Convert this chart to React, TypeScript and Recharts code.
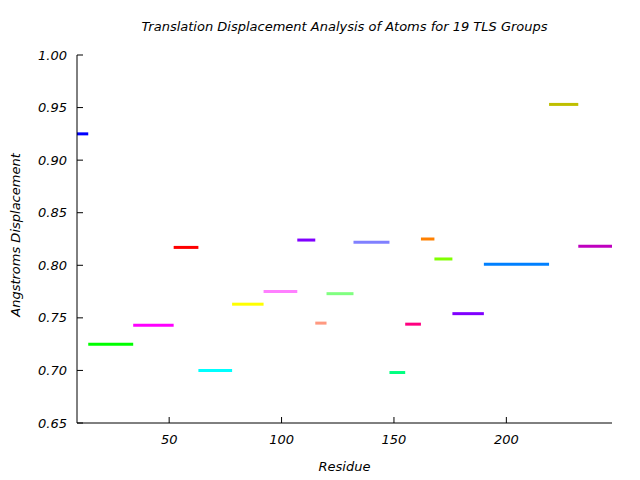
import { LineChart, Line, XAxis, YAxis } from "recharts";

// TLS groups: residue ranges and mean translation displacement
const groupStart = [9, 14, 34, 52, 63, 78, 92, 107, 115, 120, 132, 148, 155, 162, 168, 176, 190, 219, 232];
const groupEnd = [14, 34, 52, 63, 78, 92, 107, 115, 120, 132, 148, 155, 162, 168, 176, 190, 219, 232, 247];
const displacement = [
  0.925, 0.725, 0.743, 0.817, 0.7, 0.763, 0.775, 0.824, 0.745, 0.773, 0.822, 0.698, 0.744, 0.825, 0.806,
  0.754, 0.801, 0.953, 0.818,
];
const groupColors = [
  "#0000ff", "#00ff00", "#ff00ff", "#ff0000", "#00ffff", "#ffff00", "#ff80ff", "#8000ff", "#ff9980",
  "#80ff80", "#8080ff", "#00ff80", "#ff0080", "#ff8000", "#80ff00", "#8000ff", "#0080ff", "#bfbf00",
  "#bf00bf",
];

const xTicks = [50, 100, 150, 200];
const yTicks = [0.65, 0.7, 0.75, 0.8, 0.85, 0.9, 0.95, 1.0];
const xDomain = [9, 247];
const yDomain = [0.65, 1.0];

const FONT = "'DejaVu Sans', sans-serif";
const textStyle = { fontFamily: FONT, fontStyle: "italic", fontSize: 13, fill: "#000" };

const groups = groupStart.map((s, i) => ({
  key: `g${i + 1}`,
  color: groupColors[i],
  data: [
    { r: s, v: displacement[i] },
    { r: groupEnd[i], v: displacement[i] },
  ],
}));

function LeftTick({ x, y, payload }: any) {
  return (
    <g>
      <text x={x} y={y} dy={4.5} textAnchor="end" style={textStyle}>
        {Number(payload.value).toFixed(2)}
      </text>
      <line x1={x + 10} x2={x + 16} y1={y} y2={y} stroke="#000" />
    </g>
  );
}

function RightTick({ x, y }: any) {
  return <line x1={x - 6} x2={x} y1={y} y2={y} stroke="#000" />;
}

function BottomTick({ x, y, payload }: any) {
  return (
    <g>
      <line x1={x} x2={x} y1={y - 6} y2={y} stroke="#000" />
      <text x={x} y={y} dy={21} textAnchor="middle" style={textStyle}>
        {payload.value}
      </text>
    </g>
  );
}

function TopTick({ x, y }: any) {
  return <line x1={x} x2={x} y1={y} y2={y + 6} stroke="#000" />;
}

export default function App() {
  return (
    <div style={{ position: "absolute", left: 0, top: 0, width: 640, height: 480, background: "#fff" }}>
      <div
        style={{
          position: "absolute",
          left: 77,
          width: 535,
          top: 18,
          textAlign: "center",
          fontFamily: FONT,
          fontStyle: "italic",
          fontSize: 13,
          lineHeight: "18px",
          color: "#000",
        }}
      >
        Translation Displacement Analysis of Atoms for 19 TLS Groups
      </div>
      <LineChart width={640} height={480} margin={{ top: 55, right: 28, bottom: 0, left: 0 }}>
        <XAxis
          xAxisId="bottom"
          dataKey="r"
          type="number"
          domain={xDomain}
          allowDataOverflow
          ticks={xTicks}
          height={57}
          tickSize={0}
          tickMargin={0}
          tickLine={false}
          axisLine={{ stroke: "#000" }}
          tick={<BottomTick />}
          label={{ value: "Residue", position: "insideBottom", offset: 9, style: textStyle }}
        />
        <XAxis
          xAxisId="top"
          orientation="top"
          dataKey="r"
          type="number"
          domain={xDomain}
          allowDataOverflow
          ticks={xTicks}
          height={0}
          tickSize={0}
          tickMargin={0}
          tickLine={false}
          axisLine={{ stroke: "#000" }}
          tick={<TopTick />}
        />
        <YAxis
          yAxisId="left"
          type="number"
          domain={yDomain}
          allowDataOverflow
          ticks={yTicks}
          width={77}
          tickSize={0}
          tickMargin={10}
          tickLine={false}
          axisLine={{ stroke: "#000" }}
          tick={<LeftTick />}
          label={{
            value: "Angstroms Displacement",
            angle: -90,
            position: "insideLeft",
            offset: 15,
            dy: -4,
            style: { ...textStyle, textAnchor: "middle" },
          }}
        />
        <YAxis
          yAxisId="right"
          orientation="right"
          type="number"
          domain={yDomain}
          allowDataOverflow
          ticks={yTicks}
          width={0}
          tickSize={0}
          tickMargin={0}
          tickLine={false}
          axisLine={{ stroke: "#000" }}
          tick={<RightTick />}
        />
        {groups.map((g) => (
          <Line
            key={g.key}
            data={g.data}
            xAxisId="bottom"
            yAxisId="left"
            dataKey="v"
            type="linear"
            stroke={g.color}
            strokeWidth={3}
            dot={false}
            activeDot={false}
            isAnimationActive={false}
          />
        ))}
      </LineChart>
    </div>
  );
}
